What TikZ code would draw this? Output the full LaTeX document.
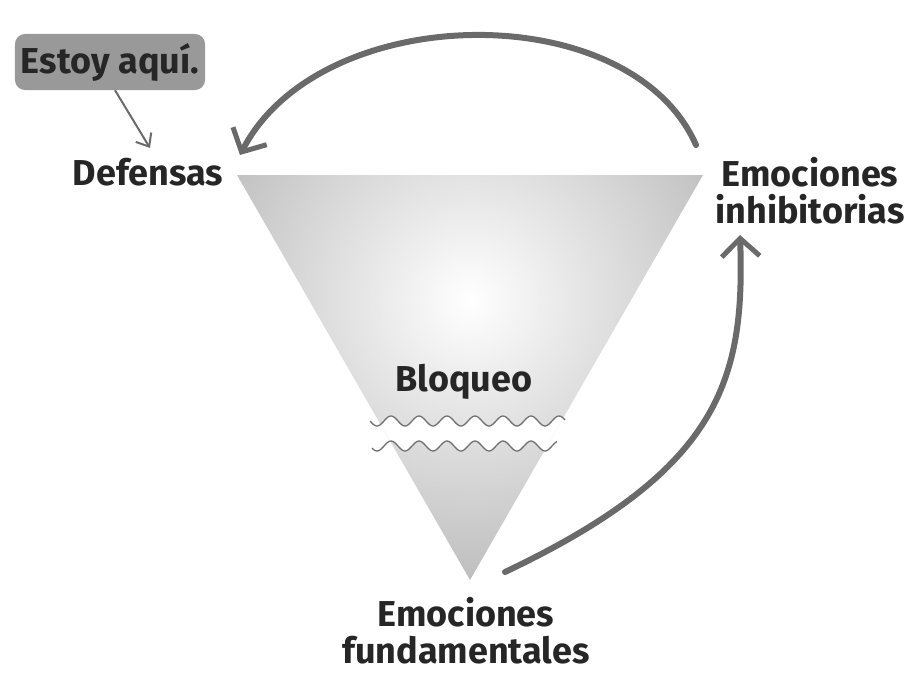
\documentclass[tikz,border=0pt]{standalone}
\usepackage{fontspec}
\setmainfont{Fira Sans}
\usetikzlibrary{arrows.meta}
\definecolor{arr}{HTML}{6A6A6A}
\tikzset{lbl/.style={font=\fontsize{36}{40}\selectfont\bfseries, text=black!85, align=center, inner sep=0pt},
 arrowline/.style={draw=arr, line width=6pt, line cap=round, -{Straight Barb[length=18pt,width=38pt,line width=5pt]}}}
\begin{document}
\begin{tikzpicture}[x=1pt,y=-1pt]
\useasboundingbox (0,0) rectangle (923,683);
% triangle
\begin{scope}
\clip (237,175) -- (703,175) -- (470,580) -- cycle;
\shade[inner color=white, outer color=black!28] (470,300) circle (310);
\fill[white] plot[domain=300:640,samples=160] (\x,{421+5*sin((\x-370)/28*360)}) -- plot[domain=640:300,samples=160] (\x,{446+5*sin((\x-370)/28*360)}) -- cycle;
\end{scope}
\draw[black!55, line width=1.3pt] plot[domain=370:565,samples=120] (\x,{421+5*sin((\x-370)/28*360)});
\draw[black!55, line width=1.3pt] plot[domain=372:557,samples=120] (\x,{446+5*sin((\x-370)/28*360)});
% labels
\node[lbl] (bloq) at (464,382) {Bloqueo};
\node[lbl] (def) at (148,172) {Defensas};
\node[lbl] (inh) at (810,191) {Emociones\\[-3pt]inhibitorias};
\node[lbl] (fund) at (466,631) {Emociones\\[-3pt]fundamentales};
\node[lbl, fill=black!40, rounded corners=10pt, inner xsep=6pt, inner ysep=9pt] (aqui) at (110,62) {Estoy aquí.};
% connectors
\coordinate (a1s) at (696,145);
\coordinate (a1e) at (240,155);
\draw[arrowline] (a1s) .. controls (630,-5) and (320,0) .. (a1e);
\coordinate (a2s) at (505,572);
\coordinate (a2e) at (740,235);
\draw[arrowline] (a2s) .. controls (720,470) and (745,380) .. (a2e);
\coordinate (a3e) at (150,148);
\draw[draw=arr, line width=2pt, -{Straight Barb[length=11pt,width=18pt,line width=2pt]}] (aqui.south) ++(5,0) -- (a3e);
\end{tikzpicture}
\end{document}
